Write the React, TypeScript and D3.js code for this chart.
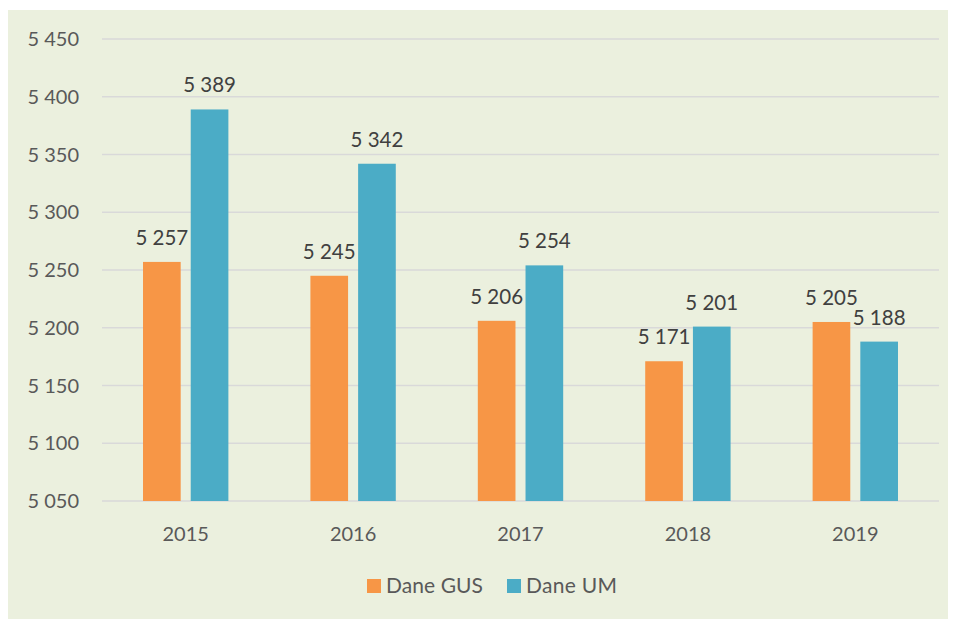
import React from "react";
import { scaleBand, scaleLinear } from "d3";

const years = ["2015", "2016", "2017", "2018", "2019"];
const daneGUS = [5257, 5245, 5206, 5171, 5205];
const daneUM = [5389, 5342, 5254, 5201, 5188];
const yTicks = [5050, 5100, 5150, 5200, 5250, 5300, 5350, 5400, 5450];

const seriesNames = ["Dane GUS", "Dane UM"];
const colors = ["#F79646", "#4BACC6"];

const W = 948;
const H = 609;
// plot area, in svg coords (svg sits at page x=8, y=10)
const left = 94;
const right = 931;
const top = 29;
const bottom = 491;

const fmt = (v: number) => {
  const s = String(v);
  return s.length > 3 ? s.slice(0, s.length - 3) + " " + s.slice(-3) : s;
};

const font = "Lato, 'Open Sans', sans-serif";

export default function App() {
  const x = scaleBand<string>().domain(years).range([left, right]);
  const y = scaleLinear().domain([5050, 5450]).range([bottom, top]);
  const bw = x.bandwidth();
  const barW = bw * 0.225;
  const gap = bw * 0.06;
  const groupW = barW * 2 + gap;

  const series = [daneGUS, daneUM];

  return (
    <svg width={W} height={H} style={{ display: "block", marginTop: 2 }}>
      <rect x={0} y={0} width={W} height={H} fill="#EBF0DE" />
      {yTicks.map((t) => (
        <g key={t}>
          <line x1={left} x2={right} y1={y(t)} y2={y(t)} stroke="#D9D9D9" strokeWidth={1.5} />
          <text
            x={71}
            y={y(t)}
            dy="0.35em"
            textAnchor="end"
            fontFamily={font}
            fontSize={20}
            fill="#595959"
          >
            {fmt(t)}
          </text>
        </g>
      ))}
      {series.map((vals, si) => (
        <g key={si} fill={colors[si]}>
          {years.map((yr, i) => {
            const bx = (x(yr) as number) + bw / 2 - groupW / 2 + si * (barW + gap);
            return (
              <g key={yr}>
                <rect x={bx} y={y(vals[i])} width={barW} height={bottom - y(vals[i])} />
                <text
                  x={bx + barW / 2}
                  y={y(vals[i]) - 17}
                  textAnchor="middle"
                  fontFamily={font}
                  fontSize={20.5}
                  fill="#404040"
                >
                  {fmt(vals[i])}
                </text>
              </g>
            );
          })}
        </g>
      ))}
      {years.map((yr) => (
        <text
          key={yr}
          x={(x(yr) as number) + bw / 2}
          y={531}
          textAnchor="middle"
          fontFamily={font}
          fontSize={20}
          fill="#595959"
        >
          {yr}
        </text>
      ))}
      <g>
        <rect x={359} y={569} width={14} height={14} fill={colors[0]} />
        <text x={378} y={583} fontFamily={font} fontSize={21} fill="#595959" textLength={97}>
          {seriesNames[0]}
        </text>
        <rect x={499} y={569} width={14} height={14} fill={colors[1]} />
        <text x={518} y={583} fontFamily={font} fontSize={21} fill="#595959" textLength={91}>
          {seriesNames[1]}
        </text>
      </g>
    </svg>
  );
}
